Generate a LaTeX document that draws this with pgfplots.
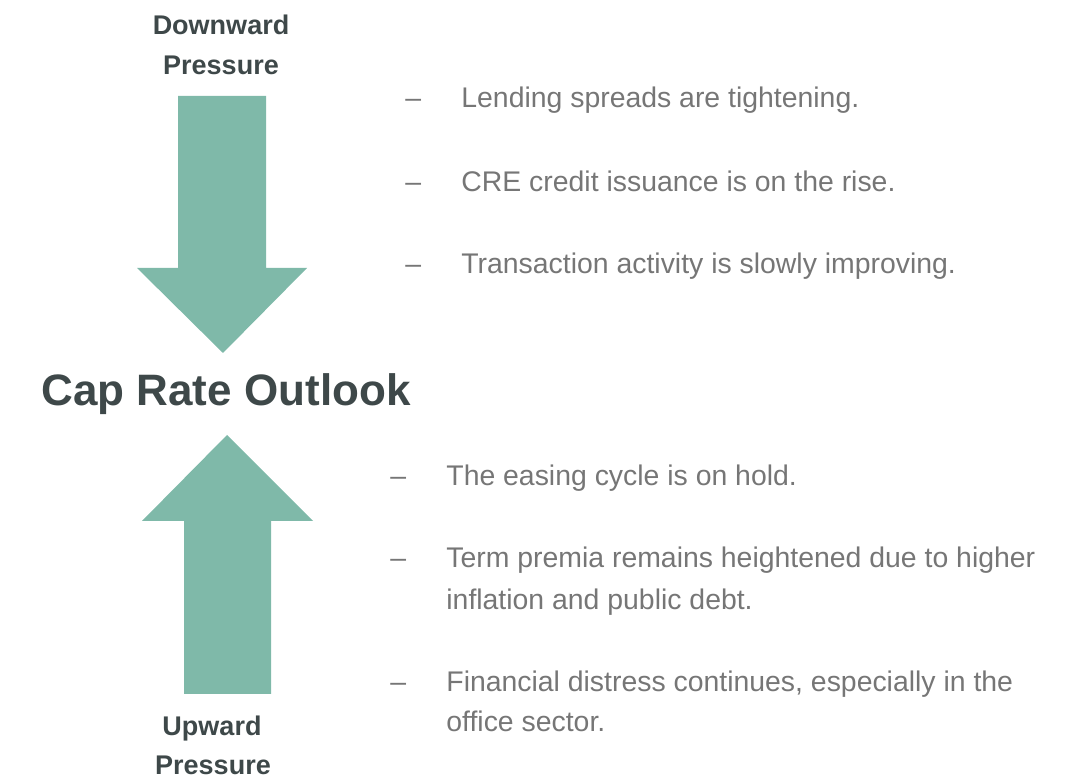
\documentclass[border=0pt]{standalone}
\usepackage{pgfplots}
\pgfplotsset{compat=1.18}
\usepackage{fontspec}
\setmainfont{Liberation Sans}
\definecolor{arrowcol}{HTML}{7FB9A9}
\definecolor{titlecol}{HTML}{3E4849}
\definecolor{txtcol}{HTML}{767676}
\begin{document}
\begin{tikzpicture}[
  bul/.style={font=\fontsize{14.2}{16}\selectfont, text=txtcol, anchor=base west, inner sep=0pt},
  hd/.style={font=\bfseries\fontsize{13.5}{16}\selectfont, text=titlecol, anchor=base, inner sep=0pt}
]
\begin{axis}[
  scale only axis, width=538pt, height=389.5pt,
  xmin=0, xmax=1076, ymin=0, ymax=779, y dir=reverse,
  axis lines=none, clip=false, ticks=none
]
% invisible frame so the picture spans the whole canvas
\addplot[draw=none] coordinates {(0,0) (1076,779)};
% downward arrow
\addplot[fill=arrowcol, draw=none] coordinates {
 (178,96) (266,96) (266,268) (307,268) (223,353) (137,268) (178,268)} --cycle;
% upward arrow
\addplot[fill=arrowcol, draw=none] coordinates {
 (184,694) (271,694) (271,521) (313,521) (227,435) (142,521) (184,521)} --cycle;

\node[hd] at (axis cs:221,35) {Downward};
\node[hd] at (axis cs:221,75) {Pressure};
\node[hd] at (axis cs:212,735) {Upward};
\node[hd] at (axis cs:213,775) {Pressure};
\node[font=\bfseries\fontsize{22}{26}\selectfont, text=titlecol, anchor=base west, inner sep=0pt] at (axis cs:41,406) {Cap Rate Outlook};

\node[bul] at (axis cs:405,108) {–};
\node[bul] at (axis cs:461,108) {Lending spreads are tightening.};
\node[bul] at (axis cs:405,192) {–};
\node[bul] at (axis cs:461,192) {CRE credit issuance is on the rise.};
\node[bul] at (axis cs:405,274) {–};
\node[bul] at (axis cs:461,274) {Transaction activity is slowly improving.};

\node[bul] at (axis cs:390,486) {–};
\node[bul] at (axis cs:446,486) {The easing cycle is on hold.};
\node[bul] at (axis cs:390,568) {–};
\node[bul] at (axis cs:446,568) {Term premia remains heightened due to higher};
\node[bul] at (axis cs:446,610) {inflation and public debt.};
\node[bul] at (axis cs:390,692) {–};
\node[bul] at (axis cs:446,692) {Financial distress continues, especially in the};
\node[bul] at (axis cs:446,732) {office sector.};
\end{axis}
\end{tikzpicture}
\end{document}
